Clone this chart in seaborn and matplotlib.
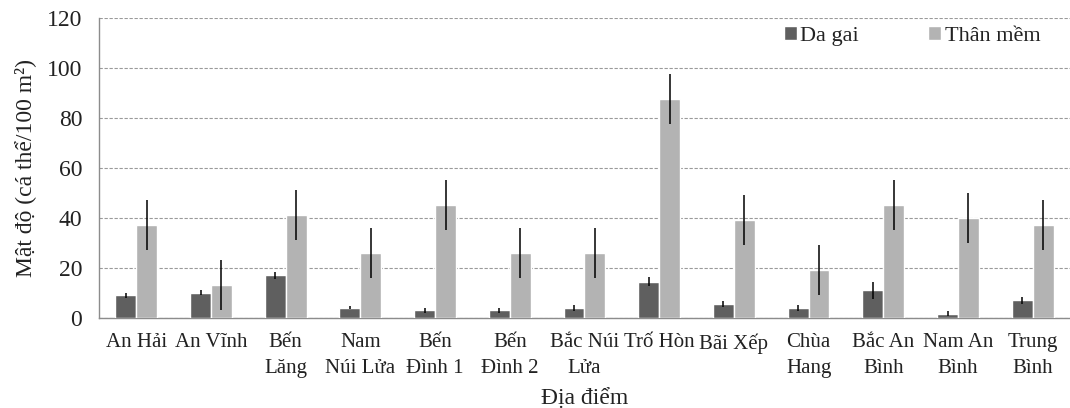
import matplotlib
matplotlib.use("Agg")
import matplotlib.pyplot as plt
import seaborn as sns
import pandas as pd

# Sampling sites and mean densities (individuals / 100 m2) with error bars
sites = ["An Hải", "An Vĩnh", "Bến\nLăng", "Nam\nNúi Lửa", "Bến\nĐình 1",
         "Bến\nĐình 2", "Bắc Núi\nLửa", "Trố Hòn", "Bãi Xếp", "Chùa\nHang",
         "Bắc An\nBình", "Nam An\nBình", "Trung\nBình"]
da_gai = [9, 10, 17, 4, 3, 3, 4, 14.5, 5.6, 4, 11, 1.7, 7]
da_gai_err = [1.1, 1, 1.5, 0.6, 1, 1, 1.3, 1.7, 1.3, 1.3, 3.5, 1, 1.4]
than_mem = [37, 13, 41, 26, 45, 26, 26, 87.5, 39, 19, 45, 40, 37]
than_mem_err = [10, 10, 10, 10, 10, 10, 10, 10, 10, 10, 10, 10, 10]
groups = ["Da gai", "Thân mềm"]
colors = ["#5f5f5f", "#b3b3b3"]
y_ticks = [0, 20, 40, 60, 80, 100, 120]

sns.set_theme(style="white")
plt.rcParams["font.family"] = ["Liberation Serif", "DejaVu Serif"]

df = pd.DataFrame({
    "site": sites * 2,
    "value": da_gai + than_mem,
    "group": [groups[0]] * len(sites) + [groups[1]] * len(sites),
})

fig = plt.figure(figsize=(10.7, 4.08), dpi=100)
ax = fig.add_axes([0.0925, 0.2206, 0.9075, 0.7353])

sns.barplot(data=df, x="site", y="value", hue="group", palette=colors,
            width=0.56, errorbar=None, saturation=1, ax=ax, zorder=3)

# Error bars centred on each drawn bar
errs = da_gai_err + than_mem_err
vals = da_gai + than_mem
bars = [p for p in ax.patches if p.get_height() > 0][:len(vals)]
xs = [p.get_x() + p.get_width() / 2 for p in bars]
ax.errorbar(xs, vals, yerr=errs, fmt="none", ecolor="black",
            elinewidth=1.1, capsize=0, zorder=4)

ax.set_ylim(0, 120)
ax.set_xlim(-0.5, len(sites) - 0.5)
ax.set_yticks(y_ticks)
ax.tick_params(axis="y", labelsize=17, pad=12, length=0)
ax.tick_params(axis="x", labelsize=15, pad=11, length=0)
for lbl in ax.get_xticklabels():
    lbl.set_linespacing(1.5)
    lbl.set_color("#222222")
for lbl in ax.get_yticklabels():
    lbl.set_color("#222222")

ax.yaxis.grid(True, linestyle=(0, (3, 1.5)), color="#9a9a9a", linewidth=0.8, zorder=0)
ax.set_axisbelow(True)
for s in ["top", "right"]:
    ax.spines[s].set_visible(False)
for s in ["left", "bottom"]:
    ax.spines[s].set_color("#8c8c8c")
    ax.spines[s].set_linewidth(1.0)

ax.set_ylabel("Mật độ (cá thể/100 m²)", fontsize=17, color="#222222", labelpad=8)
ax.set_xlabel("Địa điểm", fontsize=17, color="#222222", labelpad=7)

leg = ax.legend(loc="upper right", bbox_to_anchor=(0.99, 1.04), ncol=2,
                frameon=False, fontsize=16, handlelength=0.6, handleheight=0.6,
                handletextpad=0.15, columnspacing=3.1)
for t in leg.get_texts():
    t.set_color("#222222")

fig.savefig("out.png", dpi=100)
